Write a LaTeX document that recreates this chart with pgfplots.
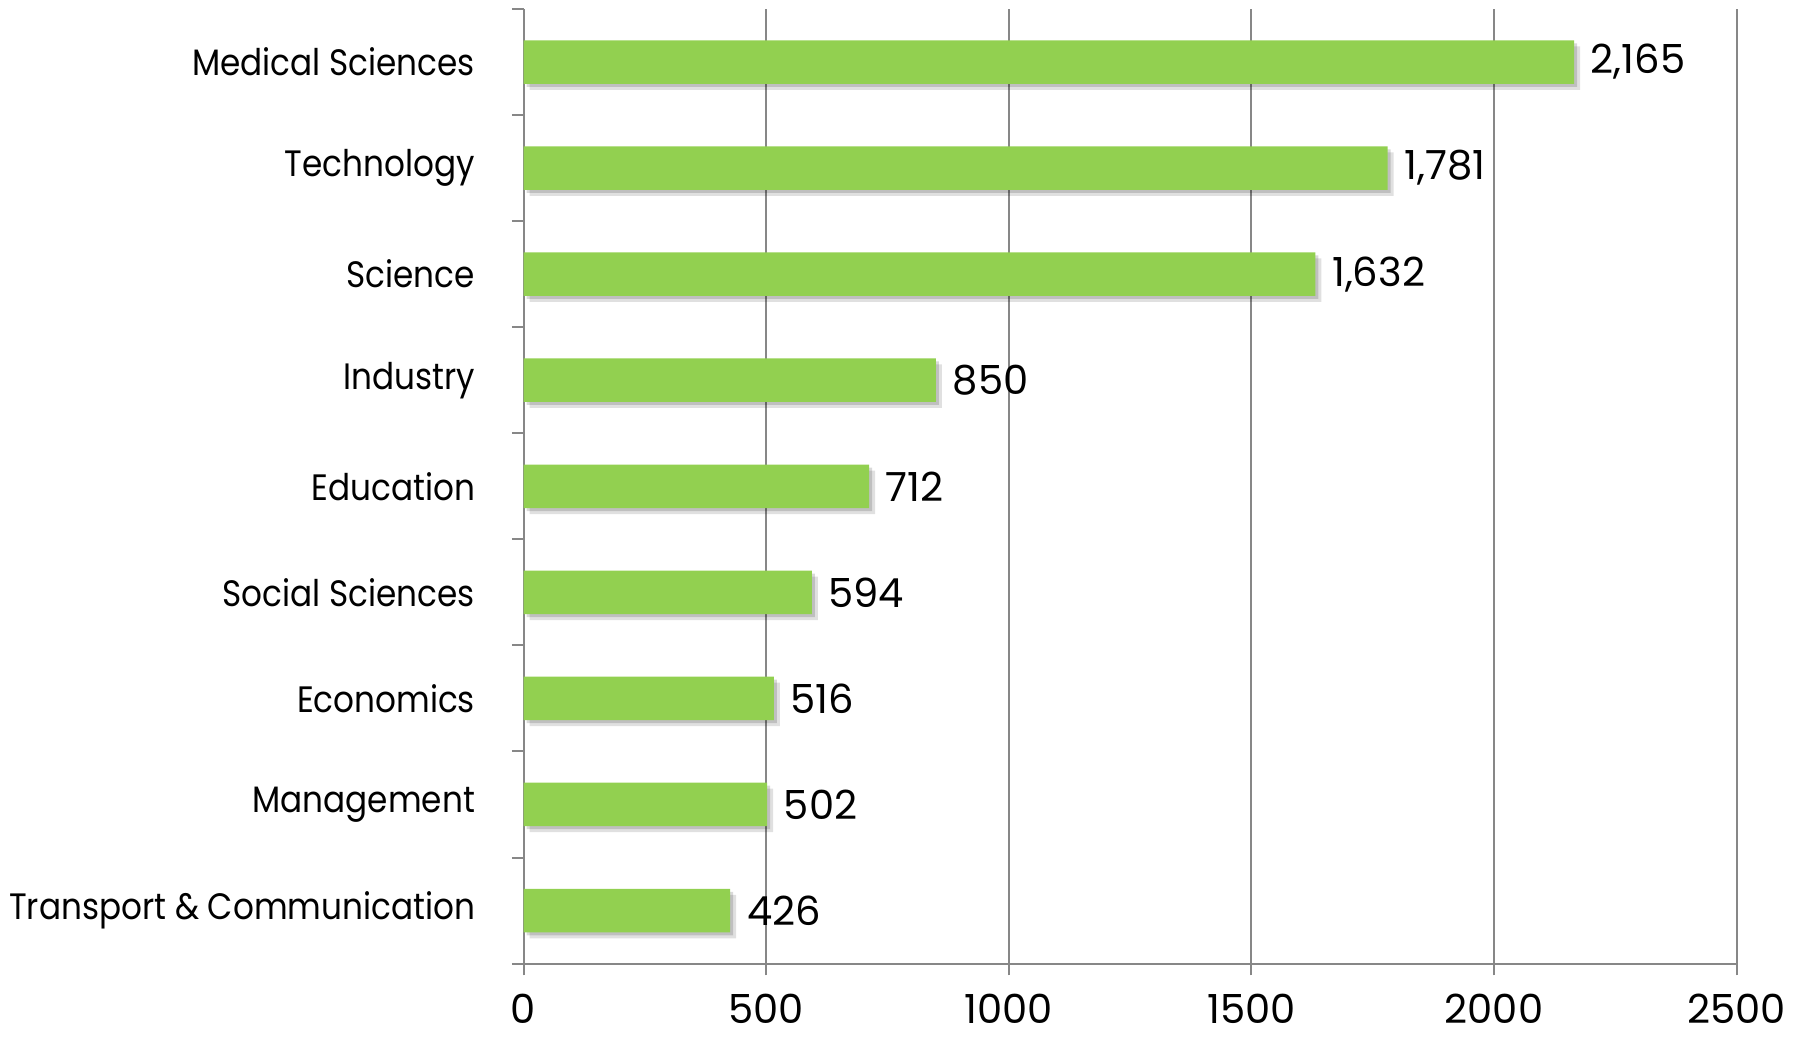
\documentclass[border=0pt]{standalone}
\usepackage{fontspec}
\setmainfont{Poppins}
\newfontfamily\labelfont[FakeStretch=0.89]{Poppins}
\newfontfamily\numfont[Numbers=Monospaced]{Poppins}
\usepackage{pgfplots}
\pgfplotsset{compat=1.18}

\definecolor{bargreen}{HTML}{92D050}
\definecolor{gridgray}{HTML}{878787}

\pgfplotstableread{
value cat
426   0
502   1
516   2
594   3
712   4
850   5
1632  6
1781  7
2165  8
}\counts

\begin{document}
\begin{tikzpicture}
  \begin{axis}[
    name = ax,
    xbar,
    bar shift = 0pt,
    width = 363.3pt,
    height = 285.9pt,
    scale only axis,
    xmin = 0, xmax = 2500,
    xtick distance = 500,
    minor xtick = {0,500,...,2500},
    ymin = -0.5, ymax = 8.5,
    ytick = {0,...,8},
    yticklabels = {Transport \& Communication, Management, Economics,
                   Social Sciences, Education, Industry, Science,
                   Technology, Medical Sciences},
    minor ytick = {-0.5,0.5,...,8.5},
    axis lines* = left,
    axis line style = {gridgray, line width=0.6pt},
    xmajorgrids,
    major grid style = {gridgray, line width=0.6pt},
    tick align = outside,
    tick style = {gridgray, line width=0.6pt},
    major tick length = 0pt,
    minor tick length = 3.5pt,
    xticklabel style = {yshift=-5.5pt, black, font=\fontsize{12}{14}\selectfont},
    yticklabel style = {xshift=-11pt, black, font=\labelfont\fontsize{11}{13}\selectfont},
    /pgf/number format/assume math mode = true,
    /pgf/number format/1000 sep = {},
    bar width = 0.41,
    clip = false,
  ]
    % soft drop shadow
    \addplot[fill = black, fill opacity = 0.12, draw = none,
      xshift = 1.8pt, yshift = -1.8pt] table[x=value, y=cat] {\counts};
    \addplot[fill = black, fill opacity = 0.15, draw = none,
      xshift = 0.9pt, yshift = -0.9pt] table[x=value, y=cat] {\counts};
    \addplot[fill = bargreen, draw = none,
      nodes near coords,
      nodes near coords style = {font=\numfont\fontsize{12}{14}\selectfont, black,
        xshift = 1.5pt, /pgf/number format/1000 sep = {,}}]
      table[x=value, y=cat] {\counts};
  \end{axis}
  \pgfresetboundingbox
  \path[use as bounding box]
    ([xshift=-156.8pt, yshift=-21.9pt]ax.south west)
    rectangle ([xshift=19.6pt, yshift=2.7pt]ax.north east);
\end{tikzpicture}
\end{document}
